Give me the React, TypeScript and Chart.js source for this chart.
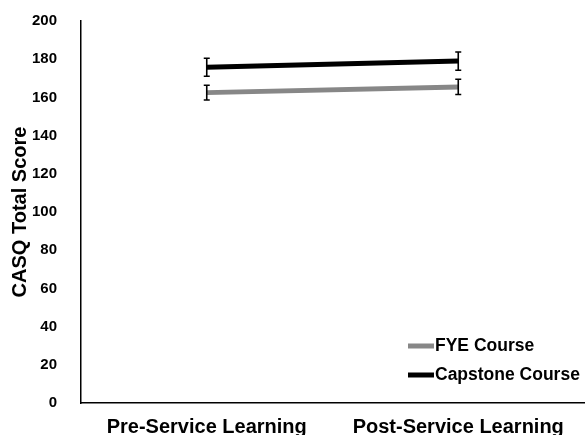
import React, { useEffect, useRef } from "react";
import { Chart, registerables } from "chart.js";

Chart.register(...registerables);

const categories = ["Pre-Service Learning", "Post-Service Learning"];
const fyeValues = [162.5, 165.5];
const fyeErrors = [3.9, 4.0];
const capstoneValues = [175.8, 179.0];
const capstoneErrors = [4.7, 4.8];
const seriesNames = ["FYE Course", "Capstone Course"];
const yTicks = [0, 20, 40, 60, 80, 100, 120, 140, 160, 180, 200];

const FONT = "'Liberation Sans', Arial, sans-serif";

const errorBarPlugin = {
  id: "errorBars",
  afterDatasetsDraw(chart: any) {
    const ctx = chart.ctx;
    const y = chart.scales.y;
    ctx.save();
    ctx.strokeStyle = "#000";
    ctx.lineWidth = 1.6;
    chart.data.datasets.forEach((ds: any, di: number) => {
      const meta = chart.getDatasetMeta(di);
      meta.data.forEach((pt: any, i: number) => {
        const v = ds.data[i];
        const e = ds.errors[i];
        const x = pt.x;
        const yt = y.getPixelForValue(v + e);
        const yb = y.getPixelForValue(v - e);
        ctx.beginPath();
        ctx.moveTo(x, yt);
        ctx.lineTo(x, yb);
        ctx.moveTo(x - 3, yt);
        ctx.lineTo(x + 3, yt);
        ctx.moveTo(x - 3, yb);
        ctx.lineTo(x + 3, yb);
        ctx.stroke();
      });
    });
    ctx.restore();
  },
};

const legendPlugin = {
  id: "customLegend",
  afterDraw(chart: any) {
    const ctx = chart.ctx;
    const area = chart.chartArea;
    ctx.save();
    ctx.font = `bold 17.5px ${FONT}`;
    ctx.textBaseline = "middle";
    ctx.textAlign = "left";
    const x0 = area.left + 327;
    const ys = [area.bottom - 57, area.bottom - 28];
    chart.data.datasets.forEach((ds: any, i: number) => {
      const yy = ys[i];
      ctx.strokeStyle = ds.borderColor;
      ctx.lineWidth = 5;
      ctx.lineCap = "butt";
      ctx.beginPath();
      ctx.moveTo(x0, yy);
      ctx.lineTo(x0 + 26, yy);
      ctx.stroke();
      ctx.fillStyle = "#000";
      ctx.fillText(ds.label, x0 + 27, yy);
    });
    ctx.restore();
  },
};

export default function App() {
  const ref = useRef<HTMLCanvasElement>(null);
  useEffect(() => {
    if (!ref.current) return;
    const chart = new Chart(ref.current, {
      type: "line",
      data: {
        labels: categories,
        datasets: [
          {
            label: seriesNames[0],
            data: fyeValues,
            errors: fyeErrors,
            borderColor: "#878787",
            backgroundColor: "#878787",
            borderWidth: 5,
            pointRadius: 0,
          } as any,
          {
            label: seriesNames[1],
            data: capstoneValues,
            errors: capstoneErrors,
            borderColor: "#000000",
            backgroundColor: "#000000",
            borderWidth: 5,
            pointRadius: 0,
          } as any,
        ],
      },
      options: {
        animation: false,
        responsive: false,
        layout: { padding: { top: 21, right: 2, left: 0, bottom: 0 } },
        plugins: { legend: { display: false }, tooltip: { enabled: false } },
        scales: {
          x: {
            offset: true,
            grid: { display: false, drawTicks: false },
            border: { display: true, color: "#000", width: 1.5 },
            ticks: {
              color: "#000",
              padding: 12,
              maxRotation: 0,
              font: { family: FONT, size: 20, weight: "bold" },
            },
            afterFit: (s: any) => {
              s.height = 32;
              s.paddingLeft = 0;
              s.paddingRight = 0;
            },
          },
          y: {
            min: 0,
            max: 200,
            afterBuildTicks: (s: any) => {
              s.ticks = yTicks.map((v) => ({ value: v }));
            },
            grid: { display: false, drawTicks: false },
            border: { display: true, color: "#000", width: 1.5 },
            ticks: {
              color: "#000",
              padding: 24,
              font: { family: FONT, size: 15, weight: "bold" },
            },
            title: {
              display: true,
              text: "CASQ Total Score",
              color: "#000",
              padding: { top: 8, bottom: 0 },
              font: { family: FONT, size: 20, weight: "bold" },
            },
            afterFit: (s: any) => {
              s.width = 81;
              s.paddingTop = 0;
              s.paddingBottom = 0;
            },
          },
        },
      },
      plugins: [errorBarPlugin, legendPlugin],
    });
    return () => chart.destroy();
  }, []);
  return (
    <div style={{ position: "fixed", left: 0, top: 0, width: 586, height: 435, background: "#fff" }}>
      <canvas ref={ref} width={586} height={435} style={{ width: 586, height: 435 }} />
    </div>
  );
}
